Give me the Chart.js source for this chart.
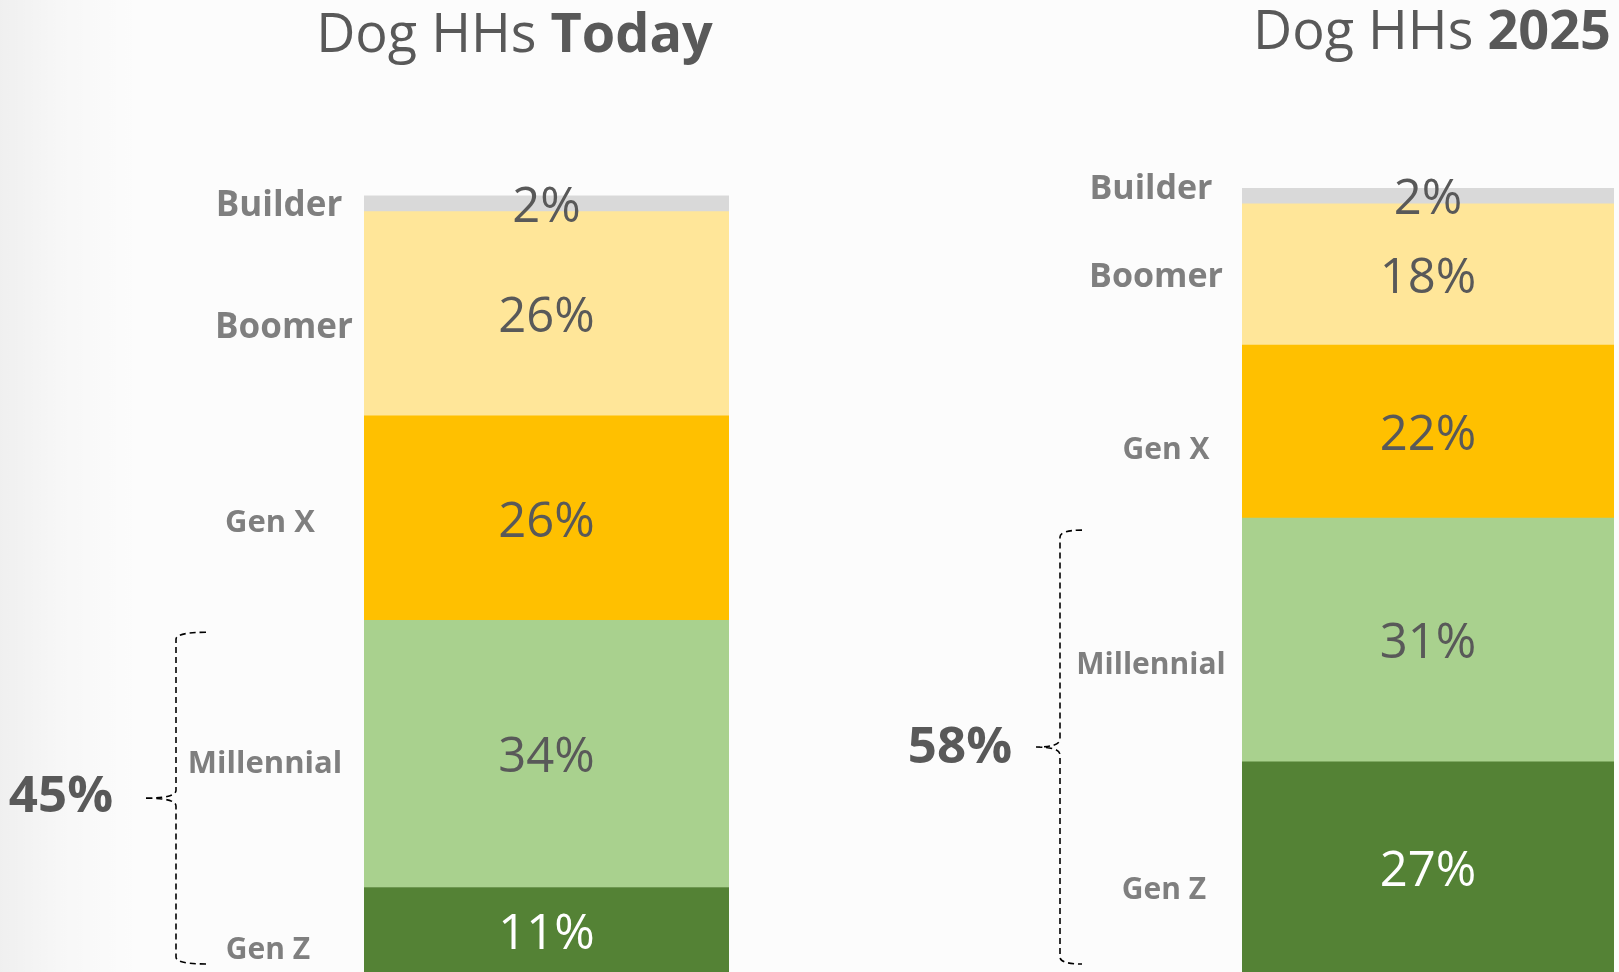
<!DOCTYPE html>
<html>
<head>
<meta charset="utf-8">
<script src="https://cdn.jsdelivr.net/npm/chart.js@4.4.1/dist/chart.umd.min.js"></script>
<style>
  html, body { margin:0; padding:0; width:1619px; height:972px; overflow:hidden; }
  body {
    background: linear-gradient(to right, rgba(0,0,0,0.05) 0px, rgba(0,0,0,0.02) 60px, rgba(0,0,0,0) 140px), #fcfcfc;
    position: relative;
  }
  canvas { position:absolute; top:0; }
  #cToday { left:0; }
  #c2025 { left:810px; }
</style>
</head>
<body>
<canvas id="cToday" width="810" height="980"></canvas>
<canvas id="c2025" width="809" height="980"></canvas>
<script>
// ---------- DATA ----------
const generations = ['Gen Z', 'Millennial', 'Gen X', 'Boomer', 'Builder'];
const todayValues = [11, 34, 26, 26, 2];
const values2025 = [27, 31, 22, 18, 2];
const titleLead = 'Dog HHs ';
const titleToday = 'Today';
const title2025 = '2025';
// groups summed by the bracket (Gen Z + Millennial)
const bracketGroups = ['Gen Z', 'Millennial'];

// ---------- STYLE ----------
const segColors = ['#548235', '#a9d18e', '#ffc000', '#ffe699', '#d9d9d9'];
const valueColors = ['#ffffff', '#595959', '#595959', '#595959', '#595959'];
const FONT = '"Open Sans", "Noto Sans", sans-serif';

function makeAnnoPlugin(L) {
  return {
    id: 'genAnno',
    afterDraw(chart) {
      const ctx = chart.ctx;
      const n = chart.data.datasets.length;
      const segs = [];
      for (let i = 0; i < n; i++) {
        const el = chart.getDatasetMeta(i).data[0];
        const p = el.getProps(['x', 'y', 'base', 'width'], true);
        segs.push({ top: Math.min(p.y, p.base), bottom: Math.max(p.y, p.base), x: p.x, left: p.x - p.width / 2, right: p.x + p.width / 2 });
      }
      const barLeft = segs[0].left;
      const barCenter = segs[0].x;
      ctx.save();
      // title
      ctx.textBaseline = 'alphabetic';
      ctx.fillStyle = '#595959';
      ctx.font = `400 ${L.titleSize}px ${FONT}`;
      const w1 = ctx.measureText(titleLead).width;
      ctx.font = `700 ${L.titleSize}px ${FONT}`;
      const w2 = ctx.measureText(L.titleBold).width;
      let tx = barCenter + L.titleDx - (w1 + w2) / 2;
      ctx.textAlign = 'left';
      ctx.font = `400 ${L.titleSize}px ${FONT}`;
      ctx.fillText(titleLead, tx, L.titleBaseline);
      ctx.font = `700 ${L.titleSize}px ${FONT}`;
      ctx.fillText(L.titleBold, tx + w1, L.titleBaseline);

      // value labels inside segments
      ctx.textAlign = 'center';
      const vs = L.valueSize;
      ctx.font = `400 ${vs}px ${FONT}`;
      for (let i = 0; i < n; i++) {
        const s = segs[i];
        const cy = (s.top + s.bottom) / 2;
        ctx.fillStyle = valueColors[i];
        ctx.fillText(chart.data.datasets[i].data[0] + '%', s.x, cy + vs * 0.357 + 1);
      }

      // category labels left of bar
      for (let i = 0; i < n; i++) {
        const s = segs[i];
        const cy = (s.top + s.bottom) / 2;
        const o = L.catOffsets[i];
        const fs = L.catSizes[i];
        ctx.font = `700 ${fs}px ${FONT}`;
        ctx.fillStyle = '#7f7f7f';
        ctx.fillText(chart.data.datasets[i].label, barLeft + o[0], cy + o[1] + fs * 0.357);
      }

      // bracket around Gen Z + Millennial
      const idx = bracketGroups.map(g => generations.indexOf(g));
      const yTop = Math.min(...idx.map(i => segs[i].top)) + 12;
      const yBot = chart.chartArea.bottom - 10;
      const yMid = (yTop + yBot) / 2;
      const xv = barLeft + L.braceV, xh = barLeft + L.braceHook, xt = barLeft + L.braceTip;
      ctx.strokeStyle = '#000';
      ctx.lineWidth = 1.6;
      ctx.setLineDash([6, 4]);
      ctx.beginPath();
      ctx.moveTo(xh, yTop);
      ctx.quadraticCurveTo(xv, yTop, xv, yTop + 7);
      ctx.lineTo(xv, yMid - 8);
      ctx.quadraticCurveTo(xv, yMid, xt, yMid);
      ctx.moveTo(xt, yMid);
      ctx.quadraticCurveTo(xv, yMid, xv, yMid + 8);
      ctx.lineTo(xv, yBot - 7);
      ctx.quadraticCurveTo(xv, yBot, xh, yBot);
      ctx.stroke();
      ctx.setLineDash([]);

      // bracket total
      const total = idx.reduce((a, i) => a + chart.data.datasets[i].data[0], 0);
      ctx.font = `700 ${L.sumSize}px ${FONT}`;
      ctx.fillStyle = '#595959';
      ctx.textAlign = 'center';
      ctx.fillText(total + '%', barLeft + L.sumDx, yMid + L.sumDy + L.sumSize * 0.357);
      ctx.restore();
    }
  };
}

function makeChart(canvasId, values, layout, padding) {
  return new Chart(document.getElementById(canvasId), {
    type: 'bar',
    data: {
      labels: [layout.titleBold],
      datasets: generations.map((g, i) => ({
        label: g,
        data: [values[i]],
        backgroundColor: segColors[i],
        borderWidth: 0,
        barPercentage: 1,
        categoryPercentage: 1
      }))
    },
    options: {
      responsive: false,
      animation: false,
      devicePixelRatio: 1,
      layout: { padding },
      plugins: { legend: { display: false }, tooltip: { enabled: false }, title: { display: false } },
      scales: {
        x: { stacked: true, display: false },
        y: { stacked: true, display: false, min: 0, max: 100 }
      }
    },
    plugins: [makeAnnoPlugin(layout)]
  });
}

makeChart('cToday', todayValues, {
  titleBold: titleToday, titleSize: 54, titleDx: -32, titleBaseline: 52,
  valueSize: 49,
  catSizes: [30, 31, 31, 35, 35],
  catOffsets: [[-96, 18], [-99, 8], [-94, 3], [-80, 12], [-85, 0]],
  braceV: -188, braceHook: -158, braceTip: -218,
  sumSize: 51, sumDx: -303, sumDy: -4
}, { left: 364, right: 81, top: 188, bottom: 6 });

makeChart('c2025', values2025, {
  titleBold: title2025, titleSize: 54, titleDx: 4, titleBaseline: 49,
  valueSize: 49,
  catSizes: [30, 30, 30, 34, 34],
  catOffsets: [[-78, 20], [-91, 23], [-76, 17], [-86, 0], [-91, -9]],
  braceV: -182, braceHook: -160, braceTip: -206,
  sumSize: 51, sumDx: -282, sumDy: -2
}, { left: 432, right: 5, top: 188, bottom: 6 });
</script>
</body>
</html>
